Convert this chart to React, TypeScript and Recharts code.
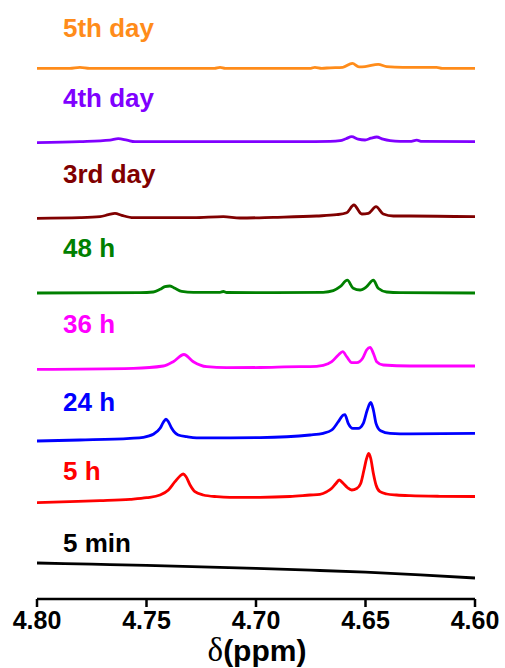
import { LineChart, Line, XAxis, YAxis } from "recharts";

type Pt = [number, number];

const PPM_TICKS = [4.8, 4.75, 4.7, 4.65, 4.6];

// Each spectrum: [ppm, intensity above its own baseline]
const MIN_5: Pt[] = [
  [4.8, 15], [4.775, 13.8], [4.75, 12.6], [4.725, 11.2], [4.7, 9.6],
  [4.675, 7.8], [4.65, 5.8], [4.625, 3.2], [4.6, 0],
];

const H_5: Pt[] = [
  [4.8, -6.2], [4.785, -5.2], [4.7712, -4.2], [4.7575, -2.8], [4.7499, -1.2],
  [4.7438, 1.5], [4.74, 6.5], [4.737, 14.8], [4.7347, 20.5], [4.7332, 22.5],
  [4.732, 20], [4.7301, 11.5], [4.7279, 4.8], [4.7241, 1.5], [4.7179, -0.2],
  [4.7119, -0.8], [4.6982, -0.8], [4.6845, 0], [4.6753, 1.5], [4.6708, 2.2],
  [4.6677, 4.8], [4.6654, 8.2], [4.6635, 13], [4.662, 16.5], [4.6601, 13],
  [4.6583, 9], [4.6563, 6.5], [4.654, 8], [4.6522, 13], [4.6507, 26.5],
  [4.6495, 38], [4.6485, 43], [4.6476, 38], [4.6464, 23], [4.6452, 11.5],
  [4.6434, 4.8], [4.6403, 2.5], [4.6358, 1.5], [4.6297, 0.8], [4.616, 0.2],
  [4.6, 0],
];

const H_24: Pt[] = [
  [4.8, -7.7], [4.7804, -6.7], [4.7575, -5], [4.7515, -4], [4.7469, -1],
  [4.7438, 5], [4.7423, 11], [4.7411, 14.2], [4.74, 11.6], [4.7385, 5],
  [4.7355, -1.7], [4.7316, -3.4], [4.7271, -4.5], [4.7119, -4.5], [4.6982, -4.3],
  [4.6753, -1.7], [4.6693, 0], [4.6654, 3.3], [4.6624, 11.6], [4.6601, 18.3],
  [4.6594, 18.6], [4.6579, 10], [4.6558, 5], [4.6533, 5], [4.651, 10],
  [4.6492, 23.3], [4.6476, 30.8], [4.6464, 23.3], [4.6452, 10], [4.6431, 2.6],
  [4.6388, 0], [4.6297, -0.5], [4.6, 0],
];

const H_36: Pt[] = [
  [4.8, -3.3], [4.756, -2.3], [4.7423, 0], [4.7378, 4.3], [4.7329, 11.5],
  [4.7286, 4.3], [4.7225, -0.7], [4.7134, -1.7], [4.6982, -1.5], [4.6799, -0.7],
  [4.6753, -0.7], [4.6693, 0.7], [4.6654, 4.3], [4.6624, 11], [4.6604, 14.3],
  [4.6586, 9.3], [4.6563, 3.3], [4.654, 3.3], [4.6513, 7.7], [4.6495, 16],
  [4.6479, 18.7], [4.6464, 12.7], [4.6449, 4.3], [4.6419, 1], [4.6297, 0],
  [4.6, 0],
];

const H_48: Pt[] = [
  [4.8, 0], [4.753, 0.3], [4.7469, 1], [4.7438, 3.7], [4.7416, 6.3],
  [4.7393, 7], [4.737, 4.7], [4.7339, 1.7], [4.7286, 0.7], [4.7164, 0.7],
  [4.7149, 1.5], [4.7134, 0.5], [4.6921, 0.3], [4.6693, 0.7], [4.6647, 2.3],
  [4.6616, 6.3], [4.6583, 12.8], [4.6556, 4.7], [4.6525, 3], [4.6495, 6.3],
  [4.6464, 12.8], [4.6442, 4.7], [4.6403, 1], [4.6342, 0.3], [4.6, 0],
];

const DAY_3: Pt[] = [
  [4.8, -1.8], [4.7804, -1.2], [4.7712, -0.2], [4.7674, 1.8], [4.7644, 3.2],
  [4.7613, 1.2], [4.756, -1.2], [4.7286, -1.2], [4.7149, -0.2], [4.7073, -1.5],
  [4.6921, -0.8], [4.6723, 0.5], [4.6632, 1.8], [4.6586, 3.8], [4.6553, 11.5],
  [4.6517, 2.5], [4.6487, 3.2], [4.6452, 9.8], [4.6419, 2.5], [4.6373, 0.5],
  [4.6297, 0.5], [4.6, -0.2],
];

const DAY_4: Pt[] = [
  [4.8, -1], [4.7804, 0], [4.7667, 1.5], [4.7629, 3], [4.7589, 1.5],
  [4.7553, 0], [4.6799, 0], [4.6662, 0.3], [4.6616, 1], [4.6589, 3],
  [4.6563, 5], [4.6534, 2.5], [4.6502, 1.7], [4.6475, 3.5], [4.6449, 4.7],
  [4.642, 2.5], [4.6388, 1], [4.6342, 0.3], [4.6297, 0.3], [4.6266, 1.5],
  [4.6242, 0.3], [4.6, 0],
];

const DAY_5: Pt[] = [
  [4.8, 0], [4.785, 0], [4.7804, 1], [4.776, 0], [4.719, 0],
  [4.7164, 1], [4.714, 0], [4.675, 0], [4.6731, 1], [4.67, 0],
  [4.6662, 0.5], [4.6604, 1], [4.656, 5], [4.653, 1.5], [4.6502, 1.7],
  [4.6442, 4], [4.6403, 1.7], [4.6329, 1], [4.6266, 1], [4.6175, 1],
  [4.615, 0], [4.6, 0],
];

const NAMES = ["5 min", "5 h", "24 h", "36 h", "48 h", "3rd day", "4th day", "5th day"];
const COLORS = ["#000000", "#ff0000", "#0000ff", "#ff00ff", "#008000", "#800000", "#8000ff", "#ff8c1a"];
const OFFSETS = [21, 102.5, 165.7, 233, 306, 382.5, 457.3, 530.7];
const SPECTRA = [MIN_5, H_5, H_24, H_36, H_48, DAY_3, DAY_4, DAY_5];

// baseline of each trace label, in svg px
const LABEL_Y = [552, 480, 411, 333, 257, 183, 106.5, 37];

const SANS = "'Liberation Sans', Arial, sans-serif";

export default function App() {
  const series = SPECTRA.map((pts, i) => ({
    name: NAMES[i],
    color: COLORS[i],
    data: pts.map(([ppm, v]) => ({ ppm, y: OFFSETS[i] + v })),
  }));

  return (
    <div style={{ position: "absolute", left: 0, top: 0, width: 505, height: 668, background: "#fff" }}>
      <LineChart width={505} height={668} margin={{ top: 0, right: 30, bottom: 29, left: 37 }}>
        <XAxis
          type="number"
          dataKey="ppm"
          domain={[4.6, 4.8]}
          reversed
          allowDataOverflow
          ticks={PPM_TICKS}
          interval={0}
          tickFormatter={(v: number) => v.toFixed(2)}
          height={40}
          tickSize={8}
          tickMargin={4}
          axisLine={{ stroke: "#000", strokeWidth: 2.5 }}
          tickLine={{ stroke: "#000", strokeWidth: 2.5 }}
          tick={{ fill: "#000", fontSize: 25, fontWeight: "bold", fontFamily: SANS }}
        />
        <YAxis hide type="number" domain={[0, 599]} allowDataOverflow />
        {series.map((s) => (
          <Line
            key={s.name}
            data={s.data}
            dataKey="y"
            type="monotone"
            stroke={s.color}
            strokeWidth={2.8}
            dot={false}
            activeDot={false}
            isAnimationActive={false}
          />
        ))}
        <g>
          {series.map((s, i) => (
            <text
              key={s.name}
              x={63}
              y={LABEL_Y[i]}
              fill={s.color}
              fontSize={26}
              fontWeight="bold"
              fontFamily={SANS}
            >
              {s.name}
            </text>
          ))}
          <text x={257} y={661} textAnchor="middle" fill="#000" fontSize={30}>
            <tspan fontFamily="'Liberation Serif', 'Times New Roman', serif" fontSize={33}>δ</tspan>
            <tspan fontFamily={SANS} fontWeight="bold">(ppm)</tspan>
          </text>
        </g>
      </LineChart>
    </div>
  );
}
